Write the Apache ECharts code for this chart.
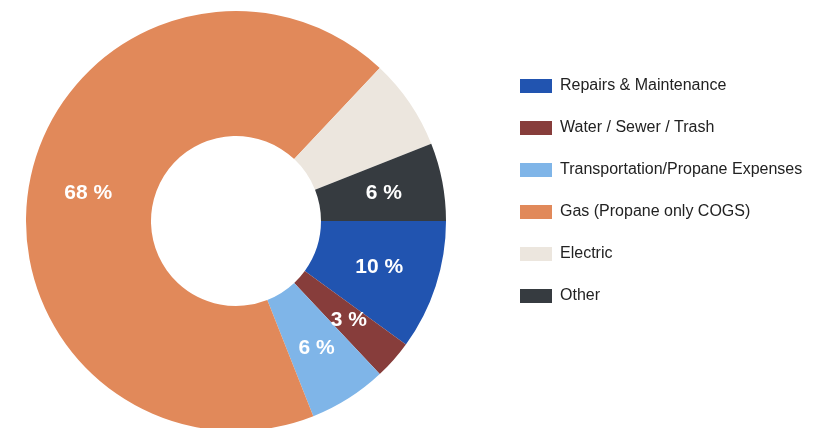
<!DOCTYPE html>
<html>
<head>
<meta charset="utf-8">
<script src="https://cdn.jsdelivr.net/npm/echarts@6/dist/echarts.min.js"></script>
<style>
  html, body { margin: 0; padding: 0; background: #fff; }
  #chart { width: 835px; height: 428px; }
</style>
</head>
<body>
<div id="chart"></div>
<script>
// Expense categories and their share of the total (percent)
const categories = [
  'Repairs & Maintenance',
  'Water / Sewer / Trash',
  'Transportation/Propane Expenses',
  'Gas (Propane only COGS)',
  'Electric',
  'Other'
];
const shares = [10, 3, 6, 68, 7, 6];
const colors = ['#2154b0', '#873d3b', '#7fb5e8', '#e1895a', '#ece6de', '#363b40'];
// Slices whose label is not printed
const hiddenLabels = ['Electric'];

const chart = echarts.init(document.getElementById('chart'), null, { renderer: 'canvas' });

const data = categories.map((name, i) => ({
  name,
  value: shares[i],
  itemStyle: { color: colors[i] },
  label: { show: !hiddenLabels.includes(name) }
}));

chart.setOption({
  animation: false,
  legend: {
    orient: 'vertical',
    left: 520,
    top: 78,
    padding: 0,
    itemWidth: 32,
    itemHeight: 14,
    itemGap: 26,
    icon: 'rect',
    textStyle: {
      fontFamily: 'Liberation Sans, Arial, sans-serif',
      fontSize: 16,
      lineHeight: 16,
      color: '#222',
      padding: [0, 0, 0, 3]
    },
    data: categories
  },
  series: [{
    type: 'pie',
    center: [236, 221],
    radius: [85, 210],
    startAngle: 0,
    clockwise: true,
    avoidLabelOverlap: false,
    label: {
      position: 'inside',
      formatter: p => p.value + ' %',
      color: '#fff',
      fontFamily: 'Liberation Sans, Arial, sans-serif',
      fontSize: 21,
      fontWeight: 'bold'
    },
    labelLine: { show: false },
    itemStyle: { borderWidth: 0 },
    emphasis: { disabled: true },
    data
  }]
});
</script>
</body>
</html>
